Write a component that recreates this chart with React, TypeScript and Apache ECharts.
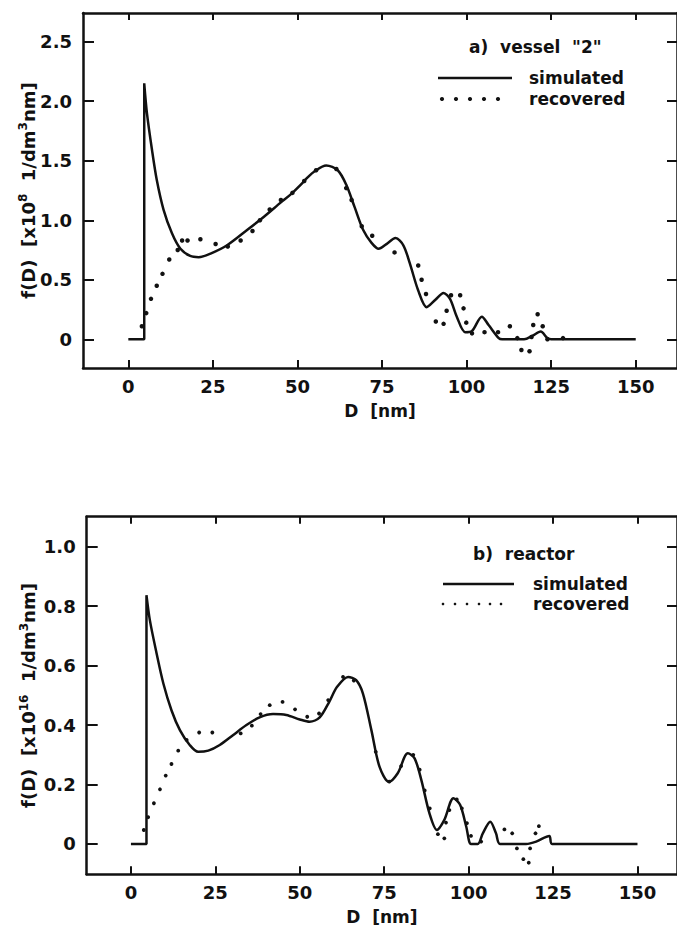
import React, { useEffect, useRef } from "react";
import * as echarts from "echarts";

// ---- data ----
const xTicks = [0, 25, 50, 75, 100, 125, 150];
const topYTicks = [0, 0.5, 1.0, 1.5, 2.0, 2.5];
const bottomYTicks = [0, 0.2, 0.4, 0.6, 0.8, 1.0];

// (a) vessel "2"  — f(D) in 1e8 1/dm^3nm
const topSimulated: [number, number][] = [
  [0, 0], [4.7, 0], [4.7, 2.15], [5.5, 1.9], [7.0, 1.59], [8.4, 1.34], [10.4, 1.09],
  [12.9, 0.89], [15.4, 0.76], [18.3, 0.7], [20.8, 0.69], [24.3, 0.72], [29.2, 0.79],
  [35.2, 0.92], [40.1, 1.03], [45.1, 1.15], [48.1, 1.22], [51, 1.3], [53, 1.36],
  [55, 1.41], [58.5, 1.46], [61.9, 1.42], [64.4, 1.3], [66.9, 1.11], [69.4, 0.92],
  [71.9, 0.81], [74.0, 0.76], [76.3, 0.8], [79.0, 0.85], [81.3, 0.79], [83.2, 0.64],
  [85.7, 0.41], [88.2, 0.27], [90.7, 0.33], [93.2, 0.39], [95.1, 0.34], [97.1, 0.19],
  [99.6, 0.06], [101.6, 0.07], [104.5, 0.19], [106.5, 0.12], [109.5, 0.01], [110.5, 0],
  [117, 0], [119.5, 0.03], [121.9, 0.065], [123.9, 0.01], [125, 0], [150, 0],
];
const topRecovered: [number, number][] = [
  [4.0, 0.11], [5.3, 0.22], [6.7, 0.34], [8.4, 0.45], [10.1, 0.55], [12.1, 0.67],
  [14.6, 0.75], [15.9, 0.83], [17.5, 0.83], [21.3, 0.84], [25.8, 0.8], [29.4, 0.78],
  [33.2, 0.83], [36.7, 0.91], [38.9, 1.0], [41.8, 1.09], [45.1, 1.17], [48.5, 1.23],
  [52, 1.33], [55.5, 1.42], [61.5, 1.43], [64.4, 1.27], [66.0, 1.17], [69.0, 0.95],
  [72.1, 0.87], [78.7, 0.73], [85.7, 0.62], [86.7, 0.5], [88.0, 0.38], [90.9, 0.15],
  [93.2, 0.13], [94.1, 0.24], [95.4, 0.37], [98.1, 0.37], [99.1, 0.26], [99.9, 0.14],
  [101.6, 0.05], [105.3, 0.06], [109.3, 0.06], [112.8, 0.11], [115.0, 0.01],
  [116.2, -0.09], [118.6, -0.1], [119.2, 0.02], [119.7, 0.12], [121.0, 0.21],
  [122.5, 0.11], [123.9, 0.0], [128.5, 0.01],
];

// (b) reactor — f(D) in 1e16 1/dm^3nm
const bottomSimulated: [number, number][] = [
  [0, 0], [4.6, 0], [4.6, 0.837], [5.6, 0.753], [7.6, 0.641], [9.6, 0.54], [12.0, 0.45],
  [14.5, 0.383], [17.4, 0.333], [19.9, 0.31], [22.9, 0.314], [26.3, 0.333], [30.2, 0.366],
  [34.2, 0.4], [38.1, 0.426], [42.1, 0.437], [46.0, 0.434], [50.0, 0.419], [52.9, 0.411],
  [55.9, 0.426], [58.8, 0.48], [61.0, 0.528], [64.3, 0.562], [66.7, 0.551], [68.7, 0.506],
  [71.2, 0.383], [73.6, 0.26], [76.4, 0.209], [79.0, 0.238], [82.0, 0.305], [84.0, 0.288],
  [86.0, 0.215], [88.4, 0.103], [90.6, 0.047], [92.8, 0.081], [95.5, 0.154], [97.5, 0.131],
  [99.3, 0.058], [100.7, 0.0], [102.7, 0], [104.2, 0.036], [106.4, 0.075], [108.1, 0.036],
  [109.3, 0], [117, 0], [120, 0.008], [123.9, 0.027], [124.7, 0], [150, 0],
];
const bottomRecovered: [number, number][] = [
  [3.8, 0.047], [5.1, 0.09], [6.8, 0.137], [8.6, 0.184], [10.3, 0.23], [12.0, 0.269],
  [14.0, 0.314], [16.5, 0.35], [20.2, 0.375], [24.1, 0.375], [32.5, 0.372], [35.8, 0.398],
  [38.4, 0.437], [41.1, 0.467], [44.9, 0.478], [48.6, 0.453], [52.2, 0.428], [55.7, 0.439],
  [58.4, 0.484], [62.8, 0.562], [66, 0.55], [72.5, 0.31], [76.5, 0.21], [80.0, 0.262],
  [83.6, 0.3], [85.5, 0.25], [87.0, 0.18], [88.5, 0.12], [90.9, 0.033], [92.8, 0.019],
  [93.3, 0.072], [94.3, 0.114], [96.5, 0.15], [98.0, 0.12], [99.5, 0.07], [100.7, 0.027],
  [103.7, 0.008], [110.6, 0.049], [112.9, 0.036], [114.3, -0.015], [116.2, -0.051],
  [117.8, -0.063], [118.2, -0.015], [119.8, 0.036], [120.8, 0.06],
];

const FONT = "DejaVu Sans";
const INK = "#111";

function xAxes(gridIndex: number, min: number, max: number) {
  const common = {
    type: "value" as const,
    gridIndex,
    min,
    max,
    splitLine: { show: false },
    axisLine: { show: true, onZero: false, lineStyle: { color: INK, width: 2.5 } },
  };
  return [
    {
      ...common,
      position: "bottom",
      name: "D  [nm]",
      nameLocation: "middle",
      nameGap: 34,
      nameMoveOverlap: false,
      nameTextStyle: { fontFamily: FONT, fontWeight: "bold", fontSize: 17, color: INK },
      axisTick: { show: true, inside: true, length: 8, customValues: xTicks, lineStyle: { color: INK, width: 2 } },
      axisLabel: {
        show: true,
        customValues: xTicks,
        margin: 9,
        fontFamily: FONT,
        fontWeight: "bold",
        fontSize: 18,
        color: INK,
      },
    },
    {
      ...common,
      position: "top",
      axisTick: { show: true, inside: true, length: 7, customValues: xTicks, lineStyle: { color: INK, width: 2 } },
      axisLabel: { show: false },
    },
  ];
}

const nameRich = {
  a: { fontFamily: FONT, fontWeight: "bold", fontSize: 18, color: INK, lineHeight: 22 },
  s: { fontFamily: FONT, fontWeight: "bold", fontSize: 12, color: INK, lineHeight: 22, verticalAlign: "top", padding: [0, 0, 8, 0] },
};

function yAxes(gridIndex: number, min: number, max: number, ticks: number[], name: string, nameGap: number) {
  const common = {
    type: "value" as const,
    gridIndex,
    min,
    max,
    splitLine: { show: false },
    axisLine: { show: true, onZero: false, lineStyle: { color: INK, width: 2.5 } },
  };
  return [
    {
      ...common,
      position: "left",
      name,
      nameLocation: "middle",
      nameRotate: 90,
      nameGap,
      nameMoveOverlap: false,
      nameTextStyle: { fontFamily: FONT, fontWeight: "bold", fontSize: 18, color: INK, rich: nameRich },
      axisTick: { show: true, inside: true, length: 11, customValues: ticks, lineStyle: { color: INK, width: 2 } },
      axisLabel: {
        show: true,
        customValues: ticks,
        margin: 11,
        fontFamily: FONT,
        fontWeight: "bold",
        fontSize: 18,
        color: INK,
        formatter: (v: number) => (v === 0 ? "0" : v.toFixed(1)),
      },
    },
    {
      ...common,
      position: "right",
      axisTick: { show: true, inside: true, length: 10, customValues: ticks, lineStyle: { color: INK, width: 2 } },
      axisLabel: { show: false },
    },
  ];
}

function legend(
  title: string,
  titleX: number,
  titleY: number,
  lineX1: number,
  lineX2: number,
  simY: number,
  recY: number,
  textX: number,
  dotXs: number[],
  dotR: number
) {
  const textStyle = (text: string, x: number, y: number) => ({
    type: "text",
    style: {
      text,
      x,
      y,
      fontFamily: FONT,
      fontWeight: "bold",
      fontSize: 17,
      fill: INK,
      textAlign: "left",
      textVerticalAlign: "middle",
      align: "left",
      verticalAlign: "middle",
    },
  });
  return [
    textStyle(title, titleX, titleY),
    textStyle("simulated", textX, simY),
    textStyle("recovered", textX, recY),
    {
      type: "line",
      shape: { x1: lineX1, y1: simY, x2: lineX2, y2: simY },
      style: { stroke: INK, lineWidth: 2.5 },
    },
    ...dotXs.map((x) => ({
      type: "circle",
      shape: { cx: x, cy: recY, r: dotR },
      style: { fill: INK },
    })),
  ];
}

export default function App() {
  const ref = useRef<HTMLDivElement>(null);
  useEffect(() => {
    if (!ref.current) return;
    const chart = echarts.init(ref.current, null, { renderer: "svg" });
    const option = {
      animation: false,
      backgroundColor: "#fff",
      grid: [
        { left: 83, top: 13, width: 595, height: 355, containLabel: false },
        { left: 86.7, top: 516.7, width: 591.3, height: 357.6, containLabel: false },
      ],
      xAxis: [...xAxes(0, -13.4, 162.2), ...xAxes(1, -13.1, 161.7)],
      yAxis: [
        ...yAxes(0, -0.241, 2.741, topYTicks, "{a|f(D)  [x10}{s|8}{a|  1/dm}{s|3}{a|nm]}", 44),
        ...yAxes(1, -0.102, 1.101, bottomYTicks, "{a|f(D)  [x10}{s|16}{a|  1/dm}{s|3}{a|nm]}", 47),
      ],
      series: [
        {
          name: "simulated",
          type: "line",
          xAxisIndex: 0,
          yAxisIndex: 0,
          data: topSimulated,
          showSymbol: false,
          smooth: 0.3,
          lineStyle: { color: INK, width: 2.5 },
        },
        {
          name: "recovered",
          type: "scatter",
          xAxisIndex: 0,
          yAxisIndex: 0,
          data: topRecovered,
          symbolSize: 4.5,
          itemStyle: { color: INK, opacity: 1 },
        },
        {
          name: "simulated",
          type: "line",
          xAxisIndex: 2,
          yAxisIndex: 2,
          data: bottomSimulated,
          showSymbol: false,
          smooth: 0.3,
          lineStyle: { color: INK, width: 2.5 },
        },
        {
          name: "recovered",
          type: "scatter",
          xAxisIndex: 2,
          yAxisIndex: 2,
          data: bottomRecovered,
          symbolSize: 3.8,
          itemStyle: { color: INK, opacity: 1 },
        },
      ],
      graphic: [
        ...legend('a)  vessel  "2"', 469, 47, 438, 512, 78, 99, 529, [442, 456, 470, 484, 498], 2.1),
        ...legend("b)  reactor", 473, 554, 443, 514, 584, 604, 533, [443, 455, 467, 479, 490, 501], 1.3),
      ],
    };
    chart.setOption(option as any);
    return () => chart.dispose();
  }, []);
  return (
    <div
      ref={ref}
      style={{ position: "fixed", left: 0, top: 0, width: 677, height: 928, background: "#fff" }}
    />
  );
}
